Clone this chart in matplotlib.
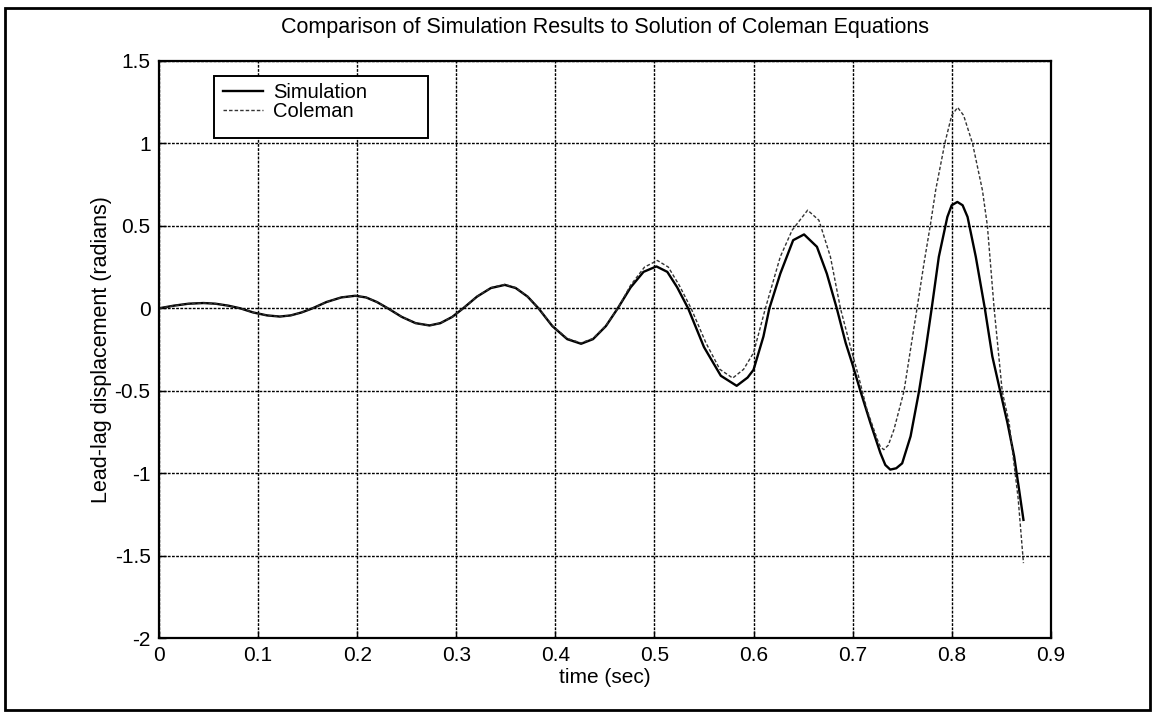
import numpy as np
import matplotlib.pyplot as plt
from matplotlib.patches import Rectangle

plt.rcParams['font.family'] = ['Liberation Sans', 'DejaVu Sans']

# Simulation result
t_sim = [0.0, 0.015, 0.030, 0.045, 0.057, 0.070, 0.082, 0.095, 0.109, 0.122,
         0.133, 0.144, 0.155, 0.169, 0.184, 0.198, 0.209, 0.220, 0.231, 0.245,
         0.259, 0.273, 0.284, 0.296, 0.307, 0.321, 0.335, 0.349, 0.360, 0.372,
         0.383, 0.397, 0.412, 0.426, 0.438, 0.451, 0.463, 0.476, 0.489, 0.502,
         0.513, 0.523, 0.534, 0.550, 0.567, 0.583, 0.594, 0.600, 0.610, 0.616,
         0.627, 0.640, 0.651, 0.664, 0.674, 0.684, 0.693, 0.6995, 0.708, 0.718,
         0.728, 0.733, 0.738, 0.744, 0.750, 0.7585, 0.767, 0.7737, 0.7798, 0.787,
         0.7956, 0.800, 0.8057, 0.811, 0.816, 0.8243, 0.8334, 0.841, 0.849, 0.8563,
         0.863, 0.868, 0.8724]
y_sim = [0.0, 0.016, 0.028, 0.032, 0.028, 0.016, 0.0, -0.025, -0.043, -0.050,
         -0.043, -0.025, 0.0, 0.038, 0.066, 0.076, 0.066, 0.038, 0.0, -0.052,
         -0.090, -0.104, -0.090, -0.052, 0.0, 0.071, 0.123, 0.142, 0.123, 0.071,
         0.0, -0.108, -0.187, -0.215, -0.187, -0.108, 0.0, 0.127, 0.221, 0.254,
         0.221, 0.127, 0.0, -0.235, -0.409, -0.470, -0.420, -0.373, -0.171, 0.0,
         0.210, 0.413, 0.448, 0.373, 0.210, 0.0, -0.210, -0.333, -0.504, -0.696,
         -0.877, -0.950, -0.978, -0.970, -0.940, -0.776, -0.504, -0.252, 0.0, 0.3125,
         0.554, 0.625, 0.645, 0.625, 0.554, 0.3125, 0.0, -0.292, -0.504, -0.696,
         -0.897, -1.100, -1.283]

# Solution of the Coleman equations
t_col = [0.0, 0.015, 0.030, 0.045, 0.057, 0.070, 0.082, 0.095, 0.109, 0.122,
         0.133, 0.144, 0.155, 0.169, 0.184, 0.198, 0.209, 0.220, 0.231, 0.245,
         0.259, 0.273, 0.284, 0.296, 0.307, 0.321, 0.335, 0.349, 0.360, 0.372,
         0.383, 0.397, 0.412, 0.426, 0.438, 0.451, 0.463, 0.476, 0.490, 0.503,
         0.514, 0.525, 0.537, 0.552, 0.566, 0.579, 0.590, 0.600, 0.612, 0.627,
         0.639, 0.6546, 0.666, 0.6776, 0.6877, 0.6978, 0.706, 0.7145, 0.725, 0.728,
         0.7315, 0.736, 0.7417, 0.7518, 0.761, 0.765, 0.772, 0.7787, 0.7838, 0.793,
         0.800, 0.806, 0.812, 0.821, 0.831, 0.836, 0.8428, 0.851, 0.858, 0.862,
         0.867, 0.8724]
y_col = [0.0, 0.016, 0.028, 0.032, 0.028, 0.016, 0.0, -0.025, -0.043, -0.050,
         -0.043, -0.025, 0.0, 0.038, 0.066, 0.076, 0.066, 0.038, 0.0, -0.052,
         -0.090, -0.104, -0.090, -0.052, 0.0, 0.072, 0.125, 0.145, 0.125, 0.072,
         0.0, -0.105, -0.183, -0.210, -0.183, -0.105, 0.0, 0.140, 0.250, 0.290,
         0.250, 0.140, 0.0, -0.210, -0.370, -0.423, -0.370, -0.270, 0.0, 0.3125,
         0.474, 0.595, 0.534, 0.3125, 0.0, -0.232, -0.413, -0.615, -0.796, -0.840,
         -0.857, -0.830, -0.736, -0.504, -0.151, 0.0, 0.272, 0.514, 0.716, 1.000,
         1.170, 1.218, 1.170, 1.000, 0.716, 0.500, 0.0, -0.504, -0.696, -0.900,
         -1.150, -1.545]

x_ticks = [0, 0.1, 0.2, 0.3, 0.4, 0.5, 0.6, 0.7, 0.8, 0.9]
x_tick_labels = ['0', '0.1', '0.2', '0.3', '0.4', '0.5', '0.6', '0.7', '0.8', '0.9']
y_ticks = [-2, -1.5, -1, -0.5, 0, 0.5, 1, 1.5]
y_tick_labels = ['-2', '-1.5', '-1', '-0.5', '0', '0.5', '1', '1.5']

fig = plt.figure(figsize=(11.56, 7.17), dpi=100)
ax = fig.add_axes([0.1375, 0.110, 0.7715, 0.805])

ax.plot(t_sim, y_sim, color='black', lw=1.7, label='Simulation')
ax.plot(t_col, y_col, color='#333333', lw=1.0, linestyle=(0, (2.5, 1.5)), label='Coleman')

ax.set_xlim(0, 0.9)
ax.set_ylim(-2, 1.5)
ax.set_xticks(x_ticks)
ax.set_xticklabels(x_tick_labels)
ax.set_yticks(y_ticks)
ax.set_yticklabels(y_tick_labels)
ax.tick_params(direction='in', length=5, width=1, labelsize=15, pad=6)
ax.grid(True, color='black', linestyle=(0, (2, 1)), lw=1.0)
for s in ax.spines.values():
    s.set_linewidth(1.6)

ax.set_title('Comparison of Simulation Results to Solution of Coleman Equations',
             fontsize=15.5, pad=20)
ax.set_xlabel('time (sec)', fontsize=15, labelpad=2)
ax.set_ylabel('Lead-lag displacement (radians)', fontsize=15.5, labelpad=2)

leg = ax.legend(loc='upper left', bbox_to_anchor=(0.0717, 0.962), fontsize=14.5,
                frameon=False, borderpad=0.0, handlelength=2.0, handletextpad=0.5,
                labelspacing=0.0, borderaxespad=0)

# MATLAB-style legend box, wider than its contents
ax.add_patch(Rectangle((0.0617, 0.866), 0.2399, 0.108, transform=ax.transAxes,
                       fill=True, facecolor='white', edgecolor='black', lw=1.4,
                       zorder=4))
leg.set_zorder(5)

# outer frame of the scanned page
fig.patches.append(Rectangle((5 / 1156, 7 / 717), 1145 / 1156, 702 / 717,
                             transform=fig.transFigure, fill=False,
                             edgecolor='black', lw=2))

fig.savefig('out.png', dpi=100)
